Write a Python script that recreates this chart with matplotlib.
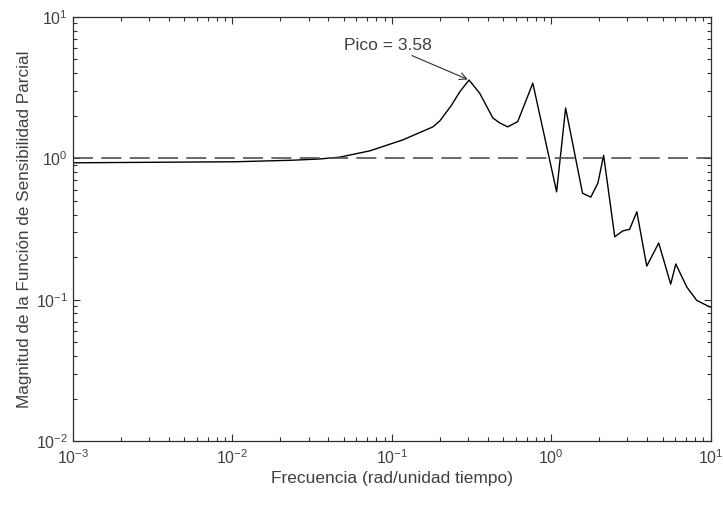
import matplotlib
matplotlib.use("Agg")
import matplotlib.pyplot as plt
from matplotlib.ticker import LogLocator, NullFormatter, FixedLocator
import numpy as np

plt.rcParams['font.family'] = ['Liberation Sans', 'DejaVu Sans']
plt.rcParams['mathtext.fontset'] = 'custom'
plt.rcParams['mathtext.rm'] = 'Liberation Sans'
plt.rcParams['mathtext.it'] = 'Liberation Sans'

freq = [0.001, 0.0104, 0.0239, 0.0354, 0.0472, 0.0728, 0.117, 0.181, 0.2, 0.235, 0.267,
        0.305, 0.356, 0.43, 0.475, 0.533, 0.616, 0.766, 1.08, 1.23, 1.57, 1.77, 1.96,
        2.13, 2.50, 2.81, 3.10, 3.44, 3.97, 4.72, 5.61, 6.04, 7.08, 8.17, 9.86, 10.0]
mag = [0.93, 0.946, 0.97, 0.99, 1.02, 1.13, 1.35, 1.67, 1.84, 2.35, 2.96,
       3.58, 2.88, 1.93, 1.78, 1.67, 1.82, 3.40, 0.58, 2.27, 0.567, 0.532, 0.668,
       1.05, 0.279, 0.307, 0.315, 0.419, 0.173, 0.252, 0.129, 0.179, 0.123, 0.099, 0.089, 0.089]
ref_level = 1.0
peak_freq = 0.305
peak_val = 3.58

fig = plt.figure(figsize=(7.23, 5.13), dpi=100)
ax = fig.add_axes([0.101, 0.140, 0.882, 0.827])

ax.loglog(freq, mag, color='black', lw=1.0)
ax.axhline(ref_level, color='#505050', lw=1.2, dashes=(12, 5))

ax.set_xlim(1e-3, 1e1)
ax.set_ylim(1e-2, 1e1)

tc = '#404040'
ax.xaxis.set_major_locator(FixedLocator([1e-3, 1e-2, 1e-1, 1e0, 1e1]))
ax.yaxis.set_major_locator(FixedLocator([1e-2, 1e-1, 1e0, 1e1]))
ax.xaxis.set_minor_locator(LogLocator(base=10, subs=np.arange(2, 10), numticks=20))
ax.yaxis.set_minor_locator(LogLocator(base=10, subs=np.arange(2, 10), numticks=20))
ax.xaxis.set_minor_formatter(NullFormatter())
ax.yaxis.set_minor_formatter(NullFormatter())
ax.set_xticklabels([r'$10^{-3}$', r'$10^{-2}$', r'$10^{-1}$', r'$10^{0}$', r'$10^{1}$'])
ax.set_yticklabels([r'$10^{-2}$', r'$10^{-1}$', r'$10^{0}$', r'$10^{1}$'])

ax.tick_params(which='both', direction='in', top=True, right=True, colors='#303030',
               labelcolor=tc, labelsize=11.5)
ax.tick_params(which='major', length=5, width=0.8)
ax.tick_params(which='minor', length=3, width=0.8)
ax.tick_params(axis='x', which='major', pad=5)
for s in ax.spines.values():
    s.set_color('#303030')
    s.set_linewidth(0.9)

ax.set_xlabel('Frecuencia (rad/unidad tiempo)', fontsize=12.5, color=tc, labelpad=3)
ax.set_ylabel('Magnitud de la Función de Sensibilidad Parcial', fontsize=12.3, color=tc, labelpad=3)

ax.annotate('Pico = %.2f' % peak_val, xy=(peak_freq, peak_val), xytext=(0.178, 6.3),
            ha='right', va='center', fontsize=12.5, color=tc,
            arrowprops=dict(arrowstyle='->', color='#303030', lw=0.8,
                            shrinkA=0, shrinkB=1))

fig.savefig('out.png', dpi=100)
